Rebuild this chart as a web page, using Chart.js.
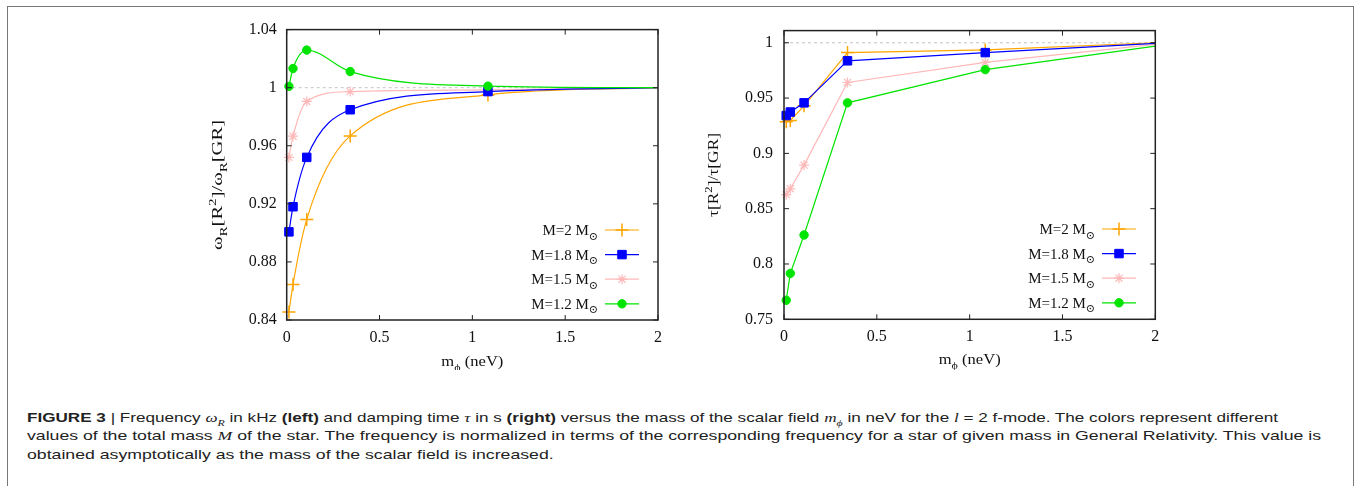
<!DOCTYPE html>
<html>
<head>
<meta charset="utf-8">
<script src="https://cdn.jsdelivr.net/npm/chart.js@4.4.1/dist/chart.umd.min.js"></script>
<style>
  body { margin: 0; background: #fff; width: 1354px; height: 486px; overflow: hidden; position: relative; }
  .frame { position: absolute; left: 7px; top: 6px; width: 1345px; height: 490px; border: 1px solid #777; border-bottom: none; }
  .plot { position: absolute; top: 10px; width: 480px; height: 360px; }
  #caption { position: absolute; left: 27px; top: 409px; font: 13px "Liberation Sans", Arial, sans-serif; line-height: 18.3px; color: #222; }
  #caption .line { white-space: nowrap; width: max-content; transform-origin: 0 0; }
  #caption i { font-family: "Liberation Serif", serif; font-size: 13px; }
  #caption sub { font-size: 9px; line-height: 0; }
</style>
</head>
<body>
<div class="frame"></div>
<div class="plot" style="left:190px"><canvas id="omegaChart"></canvas></div>
<div class="plot" style="left:700px"><canvas id="tauChart"></canvas></div>
<div id="caption">
  <div class="line" data-end="1278"><b>FIGURE 3</b> | Frequency <i>ω<sub>R</sub></i> in kHz <b>(left)</b> and damping time <i>τ</i> in s <b>(right)</b> versus the mass of the scalar field <i>m<sub>ϕ</sub></i> in neV for the <i>l</i> = 2 f-mode. The colors represent different</div>
  <div class="line" data-end="1321">values of the total mass <i>M</i> of the star. The frequency is normalized in terms of the corresponding frequency for a star of given mass in General Relativity. This value is</div>
  <div class="line">obtained asymptotically as the mass of the scalar field is increased.</div>
</div>
<script>
// scalar field mass (neV); last entry is where the curves meet the right border
const massScalar = [0.012, 0.034, 0.108, 0.342, 1.084, 2];

// omega_R normalised to GR
const omegaM20 = [0.8455, 0.8645, 0.9093, 0.9668, 0.9950, 1.0];
const omegaM18 = [0.9007, 0.9180, 0.9520, 0.9848, 0.9973, 1.0];
const omegaM15 = [0.9520, 0.9666, 0.9905, 0.9973, 0.9985, 1.0];
const omegaM12 = [1.0009, 1.0132, 1.0259, 1.0111, 1.0011, 1.0];

// damping time normalised to GR
const tauM20 = [0.9285, 0.9297, 0.9430, 0.9911, 0.9935, 1.0];
const tauM18 = [0.9342, 0.9374, 0.9457, 0.9837, 0.9911, 0.9995];
const tauM15 = [0.8627, 0.8680, 0.8894, 0.9641, 0.9822, 0.9985];
const tauM12 = [0.7672, 0.7915, 0.8262, 0.9457, 0.9757, 0.9970];

const massTicks = [0, 0.5, 1, 1.5, 2];
const omegaTicks = [0.84, 0.88, 0.92, 0.96, 1, 1.04];
const tauTicks = [0.75, 0.8, 0.85, 0.9, 0.95, 1];

const seriesLabels = ['M=2 M', 'M=1.8 M', 'M=1.5 M', 'M=1.2 M'];

const SERIF = '"Liberation Serif", "DejaVu Serif", serif';
const TICK_FONT = { family: SERIF, size: 16 };

// marker styles per stellar mass, same order as seriesLabels
const styles = [
  { color: '#ffa500', pointStyle: 'cross', radius: 6.5, border: 1.5 },
  { color: '#0000ff', pointStyle: 'rect', radius: 6, border: 1 },
  { color: '#ffb8b8', pointStyle: 'star', radius: 5, border: 1.2 },
  { color: '#00e400', pointStyle: 'circle', radius: 4.2, border: 1 }
];

function toPoints(values) {
  return values.map((v, i) => ({ x: massScalar[i], y: v }));
}

function seriesDataset(k, values, smooth) {
  const s = styles[k];
  const last = values.length - 1;
  return {
    label: seriesLabels[k],
    data: toPoints(values),
    showLine: true,
    borderColor: s.color,
    backgroundColor: s.color,
    borderWidth: 1.2,
    pointStyle: s.pointStyle,
    pointRadius: values.map((v, i) => i === last ? 0 : s.radius),
    pointBorderWidth: s.border,
    pointBorderColor: s.color,
    pointBackgroundColor: s.color,
    cubicInterpolationMode: smooth ? 'monotone' : 'default',
    tension: 0,
    clip: false,
    legendIndex: k
  };
}

function referenceLine() {
  return {
    data: [{ x: 0, y: 1 }, { x: 2, y: 1 }],
    showLine: true,
    borderColor: '#c4c4c4',
    borderWidth: 1,
    borderDash: [3, 3],
    pointRadius: 0
  };
}

function fmt(v) {
  return String(Number(v.toFixed(2)));
}

// rich text pieces: [text, kind] where kind is n, sub or sup
function pieceFont(kind, size) {
  return (kind === 'n' ? size : Math.round(size * 0.7)) + 'px ' + SERIF;
}
function pieceShift(kind, size) {
  if (kind === 'sub') return size * 0.3;
  if (kind === 'sup') return -size * 0.42;
  return 0;
}
function richWidth(ctx, parts, size) {
  let w = 0;
  parts.forEach(([t, k]) => { ctx.font = pieceFont(k, size); w += ctx.measureText(t).width; });
  return w;
}
// draws centred on cx; stretch widens the run to a given length
function drawRich(ctx, parts, cx, y, size, length) {
  const natural = richWidth(ctx, parts, size);
  const k = length ? length / natural : 1;
  ctx.save();
  ctx.translate(cx - natural * k / 2, y);
  ctx.scale(k, 1);
  ctx.textAlign = 'left';
  ctx.textBaseline = 'alphabetic';
  let x = 0;
  parts.forEach(([t, kind]) => {
    ctx.font = pieceFont(kind, size);
    ctx.fillText(t, x, pieceShift(kind, size));
    x += ctx.measureText(t).width;
  });
  ctx.restore();
}

// border on all four sides with inward ticks
const plotFrame = {
  id: 'plotFrame',
  afterDatasetsDraw(chart) {
    const { ctx, chartArea: a } = chart;
    const x = chart.scales.x, y = chart.scales.y;
    const len = 5;
    ctx.save();
    ctx.strokeStyle = '#222';
    ctx.lineWidth = 1;
    ctx.beginPath();
    x.ticks.forEach(t => {
      const px = x.getPixelForValue(t.value);
      ctx.moveTo(px, a.bottom); ctx.lineTo(px, a.bottom - len);
      ctx.moveTo(px, a.top); ctx.lineTo(px, a.top + len);
    });
    y.ticks.forEach(t => {
      const py = y.getPixelForValue(t.value);
      ctx.moveTo(a.left, py); ctx.lineTo(a.left + len, py);
      ctx.moveTo(a.right, py); ctx.lineTo(a.right - len, py);
    });
    ctx.stroke();
    ctx.lineWidth = 1.5;
    ctx.strokeRect(a.left, a.top, a.right - a.left, a.bottom - a.top);
    ctx.restore();
  }
};

// axis titles and the key inside the plot
const figureText = {
  id: 'figureText',
  afterDraw(chart, args, opts) {
    const { ctx, chartArea: a } = chart;
    const size = 15;
    ctx.save();
    ctx.fillStyle = '#111';

    drawRich(ctx, opts.xTitle, (a.left + a.right) / 2, a.bottom + opts.xTitleDy, size, opts.xTitleLen);

    ctx.save();
    ctx.translate(opts.yTitleX, opts.yTitleY);
    ctx.rotate(-Math.PI / 2);
    drawRich(ctx, opts.yTitle, 0, 5, size, opts.yTitleLen);
    ctx.restore();

    const entries = chart.data.datasets.filter(d => d.legendIndex !== undefined)
      .sort((p, q) => p.legendIndex - q.legendIndex);
    entries.forEach((d, i) => {
      const s = styles[d.legendIndex];
      const rowY = opts.keyTop + i * opts.keyStep;
      const parts = [[d.label, 'n'], ['⊙', 'sub']];
      const w = richWidth(ctx, parts, size);
      ctx.fillStyle = '#111';
      drawRich(ctx, parts, opts.keyTextRight - w / 2, rowY + 5, size);

      ctx.strokeStyle = s.color;
      ctx.lineWidth = 1.2;
      ctx.beginPath();
      ctx.moveTo(opts.keyLineLeft, rowY);
      ctx.lineTo(opts.keyLineLeft + opts.keyLineLen, rowY);
      ctx.stroke();

      ctx.fillStyle = s.color;
      ctx.lineWidth = s.border;
      Chart.helpers.drawPoint(ctx, { pointStyle: s.pointStyle, radius: s.radius, borderWidth: s.border, rotation: 0 },
        opts.keyLineLeft + opts.keyLineLen / 2, rowY);
    });
    ctx.restore();
  }
};

function axisOptions(ticks, min, max, fit, pad) {
  return {
    type: 'linear',
    min: min,
    max: max,
    afterBuildTicks: s => { s.ticks = ticks.map(v => ({ value: v })); },
    afterFit: fit,
    grid: { display: false, drawTicks: false },
    border: { display: false },
    ticks: { padding: pad, font: TICK_FONT, color: '#111', callback: v => fmt(v) }
  };
}

const xTitleParts = [['m', 'n'], ['ϕ', 'sub'], [' (neV)', 'n']];

new Chart(document.getElementById('omegaChart'), {
  type: 'scatter',
  data: {
    datasets: [
      seriesDataset(3, omegaM12, true),
      seriesDataset(1, omegaM18, true),
      seriesDataset(2, omegaM15, true),
      seriesDataset(0, omegaM20, true),
      referenceLine()
    ]
  },
  options: {
    responsive: true,
    maintainAspectRatio: false,
    animation: false,
    layout: { padding: { top: 16.7, right: 11.7, bottom: 0, left: 0 } },
    scales: {
      x: axisOptions(massTicks, 0, 2, s => { s.height = 50; }, 8),
      y: axisOptions(omegaTicks, 0.84, 1.04, s => { s.width = 96.7; }, 10)
    },
    plugins: {
      legend: { display: false },
      tooltip: { enabled: false },
      figureText: {
        xTitle: xTitleParts, xTitleDy: 46, xTitleLen: 62,
        yTitle: [['ω', 'n'], ['R', 'sub'], ['[R', 'n'], ['2', 'sup'], [']/ω', 'n'], ['R', 'sub'], ['[GR]', 'n']],
        yTitleX: 27, yTitleY: 175, yTitleLen: 130,
        keyTop: 220, keyStep: 24.6, keyTextRight: 408, keyLineLeft: 415, keyLineLen: 34
      }
    }
  },
  plugins: [plotFrame, figureText]
});

new Chart(document.getElementById('tauChart'), {
  type: 'scatter',
  data: {
    datasets: [
      seriesDataset(3, tauM12, false),
      seriesDataset(1, tauM18, false),
      seriesDataset(2, tauM15, false),
      seriesDataset(0, tauM20, false),
      referenceLine()
    ]
  },
  options: {
    responsive: true,
    maintainAspectRatio: false,
    animation: false,
    layout: { padding: { top: 16, right: 24.7, bottom: 0, left: 0 } },
    scales: {
      x: axisOptions(massTicks, 0, 2, s => { s.height = 50.7; }, 8),
      y: axisOptions(tauTicks, 0.75, 1.011, s => { s.width = 84; }, 11)
    },
    plugins: {
      legend: { display: false },
      tooltip: { enabled: false },
      figureText: {
        xTitle: xTitleParts, xTitleDy: 45, xTitleLen: 62,
        yTitle: [['τ', 'n'], ['[R', 'n'], ['2', 'sup'], [']/τ', 'n'], ['[GR]', 'n']],
        yTitleX: 13, yTitleY: 165, yTitleLen: 84,
        keyTop: 219, keyStep: 24.6, keyTextRight: 395, keyLineLeft: 402, keyLineLen: 34
      }
    }
  },
  plugins: [plotFrame, figureText]
});

// the caption face runs wide; stretch each line to its measured extent
(function fitCaption() {
  const lines = document.querySelectorAll('#caption .line');
  const left = document.getElementById('caption').getBoundingClientRect().left;
  let k = 1;
  lines.forEach(line => {
    const end = Number(line.dataset.end);
    if (end) k = (end - left) / line.getBoundingClientRect().width;
    line.style.transform = 'scaleX(' + k + ')';
  });
})();
</script>
</body>
</html>
